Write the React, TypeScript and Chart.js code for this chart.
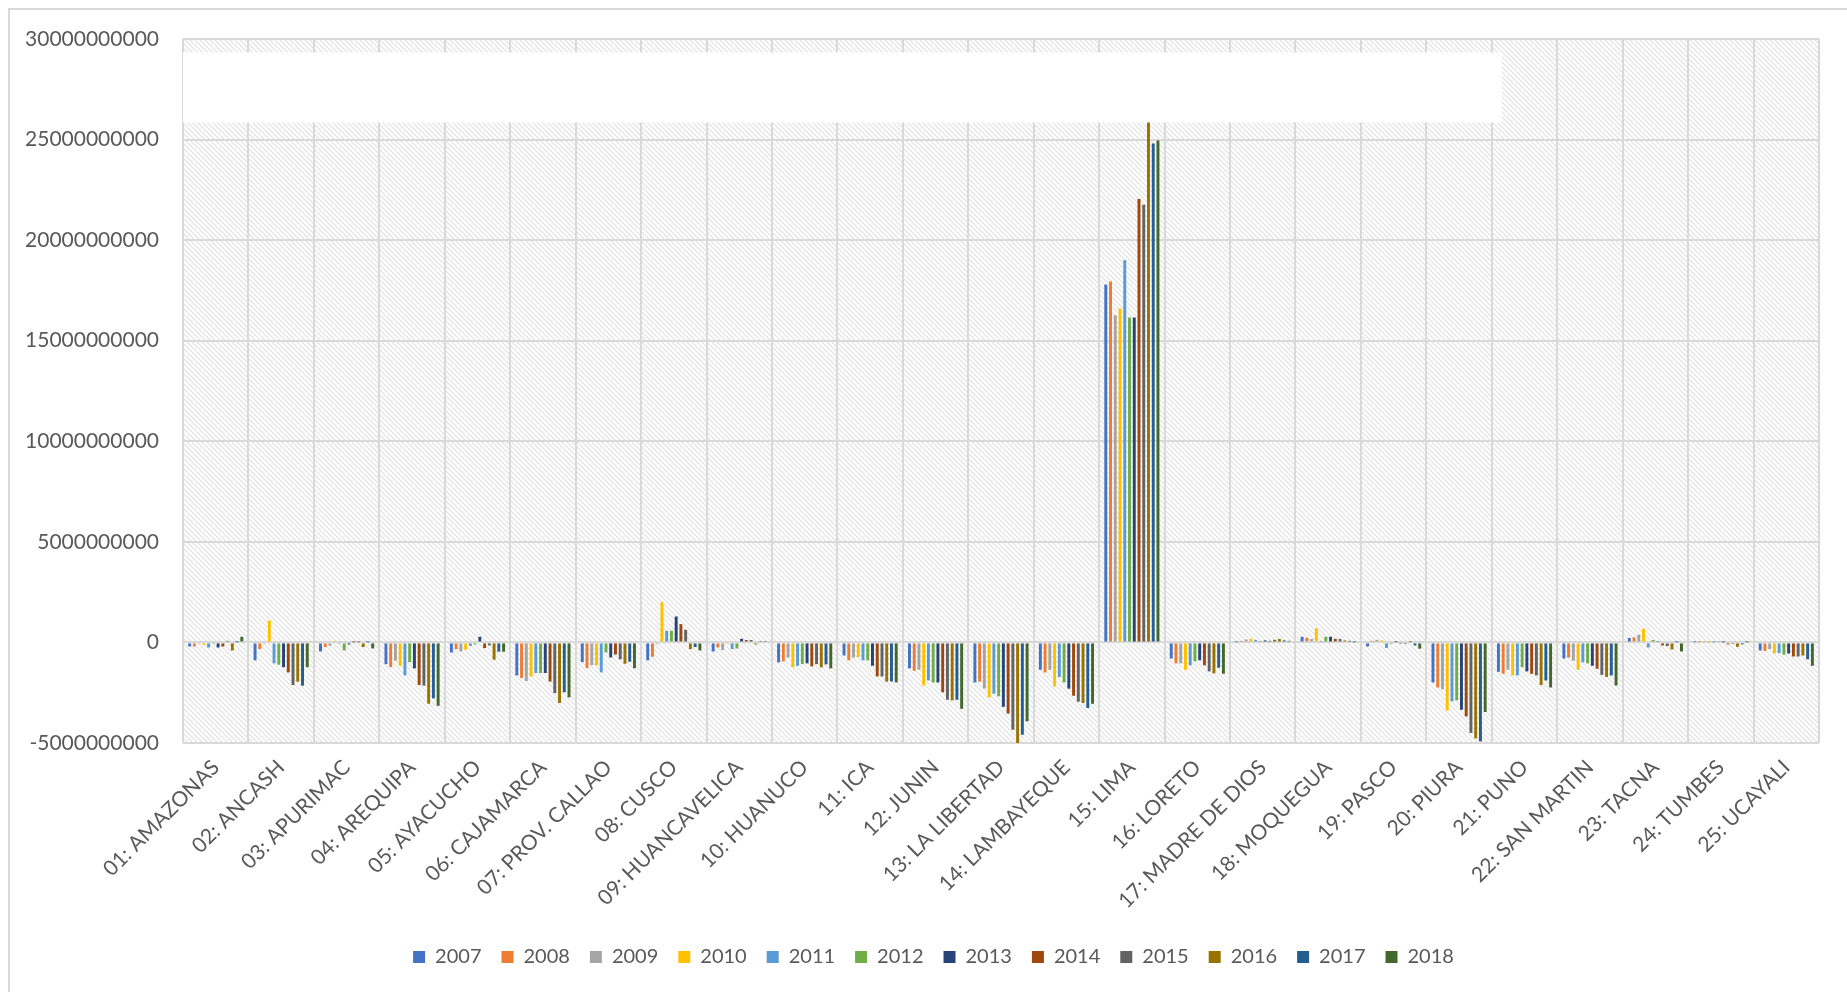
import React, { useEffect, useRef } from "react";
import { Chart, registerables } from "chart.js";

Chart.register(...registerables);

const categories = [
  "01: AMAZONAS", "02: ANCASH", "03: APURIMAC", "04: AREQUIPA", "05: AYACUCHO",
  "06: CAJAMARCA", "07: PROV. CALLAO", "08: CUSCO", "09: HUANCAVELICA", "10: HUANUCO",
  "11: ICA", "12: JUNIN", "13: LA LIBERTAD", "14: LAMBAYEQUE", "15: LIMA",
  "16: LORETO", "17: MADRE DE DIOS", "18: MOQUEGUA", "19: PASCO", "20: PIURA",
  "21: PUNO", "22: SAN MARTIN", "23: TACNA", "24: TUMBES", "25: UCAYALI",
];

const years = ["2007", "2008", "2009", "2010", "2011", "2012", "2013", "2014", "2015", "2016", "2017", "2018"];

const v2007 = [-0.2e9, -0.89e9, -0.45e9, -1.08e9, -0.5e9, -1.64e9, -0.98e9, -0.89e9, -0.45e9, -0.99e9, -0.65e9, -1.29e9, -1.99e9, -1.36e9, 17.8e9, -0.8e9, 0.01e9, 0.28e9, -0.2e9, -1.99e9, -1.46e9, -0.8e9, 0.22e9, 0.01e9, -0.4e9];
const v2008 = [-0.2e9, -0.33e9, -0.23e9, -1.23e9, -0.33e9, -1.77e9, -1.28e9, -0.71e9, -0.25e9, -0.94e9, -0.89e9, -1.41e9, -1.95e9, -1.49e9, 17.95e9, -1.04e9, 0.02e9, 0.23e9, 0.08e9, -2.24e9, -1.56e9, -0.75e9, 0.25e9, 0.01e9, -0.43e9];
const v2009 = [-0.07e9, -0.03e9, -0.17e9, -0.91e9, -0.45e9, -1.92e9, -1.13e9, -0.08e9, -0.38e9, -0.75e9, -0.75e9, -1.36e9, -2.29e9, -1.36e9, 16.26e9, -1.04e9, 0.15e9, 0.17e9, 0.13e9, -2.33e9, -1.36e9, -0.91e9, 0.38e9, 0.02e9, -0.33e9];
const v2010 = [-0.13e9, 1.08e9, 0.08e9, -1.16e9, -0.36e9, -1.69e9, -1.14e9, 2.0e9, -0.08e9, -1.23e9, -0.73e9, -2.15e9, -2.73e9, -2.19e9, 16.6e9, -1.36e9, 0.18e9, 0.7e9, 0.1e9, -3.38e9, -1.64e9, -1.36e9, 0.68e9, 0.01e9, -0.55e9];
const v2011 = [-0.25e9, -1.04e9, -0.07e9, -1.64e9, -0.17e9, -1.52e9, -1.49e9, 0.58e9, -0.33e9, -1.16e9, -0.89e9, -1.89e9, -2.55e9, -1.72e9, 19.0e9, -1.14e9, 0.13e9, 0.02e9, -0.28e9, -2.93e9, -1.64e9, -0.99e9, -0.25e9, 0.01e9, -0.53e9];
const v2012 = [-0.03e9, -1.11e9, -0.4e9, -0.98e9, -0.1e9, -1.52e9, -0.5e9, 0.58e9, -0.3e9, -1.08e9, -0.89e9, -1.99e9, -2.68e9, -1.99e9, 16.15e9, -0.94e9, 0.02e9, 0.28e9, -0.08e9, -2.88e9, -1.23e9, -1.04e9, 0.12e9, 0.03e9, -0.61e9];
const v2013 = [-0.25e9, -1.23e9, -0.1e9, -1.29e9, 0.28e9, -1.52e9, -0.75e9, 1.29e9, 0.18e9, -1.04e9, -1.16e9, -1.99e9, -3.2e9, -2.3e9, 16.15e9, -0.89e9, 0.1e9, 0.28e9, 0.01e9, -3.35e9, -1.44e9, -1.16e9, 0.07e9, 0.01e9, -0.55e9];
const v2014 = [-0.2e9, -1.49e9, 0.01e9, -2.12e9, -0.28e9, -1.95e9, -0.6e9, 0.91e9, 0.12e9, -1.19e9, -1.69e9, -2.48e9, -3.54e9, -2.65e9, 22.05e9, -1.14e9, 0.08e9, 0.18e9, -0.02e9, -3.68e9, -1.56e9, -1.31e9, -0.15e9, -0.1e9, -0.7e9];
const v2015 = [0.08e9, -2.12e9, 0.01e9, -2.15e9, -0.15e9, -2.52e9, -0.84e9, 0.63e9, 0.12e9, -1.08e9, -1.69e9, -2.85e9, -4.34e9, -2.95e9, 21.76e9, -1.44e9, 0.13e9, 0.17e9, -0.08e9, -4.5e9, -1.64e9, -1.61e9, -0.18e9, -0.08e9, -0.7e9];
const v2016 = [-0.4e9, -1.95e9, -0.23e9, -3.05e9, -0.86e9, -3.01e9, -1.06e9, -0.33e9, -0.1e9, -1.24e9, -1.95e9, -2.88e9, -5.08e9, -3.01e9, 26.5e9, -1.54e9, 0.17e9, 0.1e9, 0.01e9, -4.77e9, -2.12e9, -1.72e9, -0.35e9, -0.22e9, -0.65e9];
const v2017 = [0.01e9, -2.15e9, 0.01e9, -2.78e9, -0.46e9, -2.48e9, -0.96e9, -0.23e9, 0.07e9, -1.09e9, -1.94e9, -2.85e9, -4.59e9, -3.26e9, 24.8e9, -1.26e9, 0.1e9, 0.08e9, -0.15e9, -4.92e9, -1.89e9, -1.64e9, 0.01e9, -0.1e9, -0.84e9];
const v2018 = [0.28e9, -1.23e9, -0.3e9, -3.15e9, -0.46e9, -2.73e9, -1.28e9, -0.4e9, 0.07e9, -1.29e9, -1.99e9, -3.3e9, -3.92e9, -3.05e9, 24.95e9, -1.56e9, 0.08e9, 0.01e9, -0.31e9, -3.46e9, -2.24e9, -2.14e9, -0.45e9, 0.01e9, -1.16e9];

const seriesValues = [v2007, v2008, v2009, v2010, v2011, v2012, v2013, v2014, v2015, v2016, v2017, v2018];

const seriesColors = [
  "#4472C4", "#ED7D31", "#A5A5A5", "#FFC000", "#5B9BD5", "#70AD47",
  "#264478", "#9E480E", "#636363", "#997300", "#255E91", "#43682B",
];

const yTickMin = -5e9;
const yTickMax = 30e9;
const yTickStep = 5e9;

// empty white title box overlapping the top of the plot (as in the reference)
const bandTopValue = 29.33e9;
const bandBottomValue = 25.85e9;
const bandWidthFraction = 0.806;

const FONT = "Lato, 'Open Sans', 'Liberation Sans', sans-serif";
const TEXT = "#595959";
const GRID = "#d9d9d9";

function makePattern(ctx: CanvasRenderingContext2D) {
  const size = 5;
  const c = document.createElement("canvas");
  c.width = size;
  c.height = size;
  const p = c.getContext("2d")!;
  p.fillStyle = "#ffffff";
  p.fillRect(0, 0, size, size);
  p.strokeStyle = "#e0e0e0";
  p.lineWidth = 1.2;
  p.beginPath();
  p.moveTo(-1, -1);
  p.lineTo(size + 1, size + 1);
  p.moveTo(-1, size - 1);
  p.lineTo(1, size + 1);
  p.moveTo(size - 1, -1);
  p.lineTo(size + 1, 1);
  p.stroke();
  return ctx.createPattern(c, "repeat");
}

const hatchPlugin = {
  id: "hatchBg",
  beforeDraw(chart: any) {
    const { ctx, chartArea } = chart;
    if (!chartArea) return;
    const pat = makePattern(ctx);
    ctx.save();
    ctx.fillStyle = pat || "#fff";
    ctx.fillRect(chartArea.left, chartArea.top, chartArea.right - chartArea.left, chartArea.bottom - chartArea.top);
    ctx.restore();
  },
};

const bandPlugin = {
  id: "whiteBand",
  afterDatasetsDraw(chart: any) {
    const { ctx, chartArea, scales } = chart;
    const y1 = scales.y.getPixelForValue(bandTopValue);
    const y2 = scales.y.getPixelForValue(bandBottomValue);
    const x1 = chartArea.left;
    const x2 = chartArea.left + (chartArea.right - chartArea.left) * bandWidthFraction;
    ctx.save();
    ctx.fillStyle = "#ffffff";
    ctx.fillRect(x1, y1, x2 - x1, y2 - y1);
    ctx.restore();
  },
};

// the reference legend sits slightly right of the canvas centre
const legendShift = {
  id: "legendShift",
  afterLayout(chart: any) {
    const lg = chart.legend;
    if (lg) {
      lg.left += 19;
      lg.right += 19;
    }
  },
};

export default function App() {
  const canvasRef = useRef<HTMLCanvasElement | null>(null);

  useEffect(() => {
    document.body.style.overflow = "hidden";
    const canvas = canvasRef.current;
    if (!canvas) return;
    const chart = new Chart(canvas, {
      type: "bar",
      data: {
        labels: categories,
        datasets: years.map((yr, i) => ({
          label: yr,
          data: seriesValues[i],
          backgroundColor: seriesColors[i],
          borderWidth: 0,
          categoryPercentage: 0.87,
          barPercentage: 0.62,
        })),
      },
      options: {
        responsive: false,
        animation: false,
        devicePixelRatio: 1,
        layout: { padding: { left: 0, right: 28, top: 29, bottom: 15 } },
        plugins: {
          title: { display: false },
          tooltip: { enabled: false },
          legend: {
            position: "bottom",
            labels: {
              boxWidth: 12,
              boxHeight: 12,
              padding: 20,
              color: TEXT,
              font: { family: FONT, size: 20 },
            },
          },
        },
        scales: {
          x: {
            grid: { color: GRID, lineWidth: 2, offset: true, drawTicks: false },
            border: { display: false },
            ticks: {
              autoSkip: false,
              minRotation: 45,
              maxRotation: 45,
              padding: 12,
              color: TEXT,
              font: { family: FONT, size: 21 },
            },
            afterFit: (scale: any) => {
              scale.height = 184;
            },
          },
          y: {
            min: yTickMin,
            max: yTickMax,
            grid: { color: GRID, lineWidth: 2, drawTicks: false },
            border: { display: false },
            ticks: {
              stepSize: yTickStep,
              padding: 24,
              color: TEXT,
              font: { family: FONT, size: 21 },
              callback: (v: any) => String(v),
            },
            afterFit: (scale: any) => {
              scale.width = 173;
              scale.paddingTop = 0;
              scale.paddingBottom = 0;
            },
          },
        },
      },
      plugins: [hatchPlugin, bandPlugin, legendShift],
    } as any);
    return () => chart.destroy();
  }, []);

  return (
    <div
      style={{
        position: "fixed",
        left: 8,
        top: 8,
        width: 1839,
        height: 984,
        borderLeft: "2px solid #d9d9d9",
        borderTop: "2px solid #d9d9d9",
        boxSizing: "border-box",
        background: "#fff",
      }}
    >
      <canvas ref={canvasRef} width={1837} height={982} style={{ display: "block" }} />
    </div>
  );
}
